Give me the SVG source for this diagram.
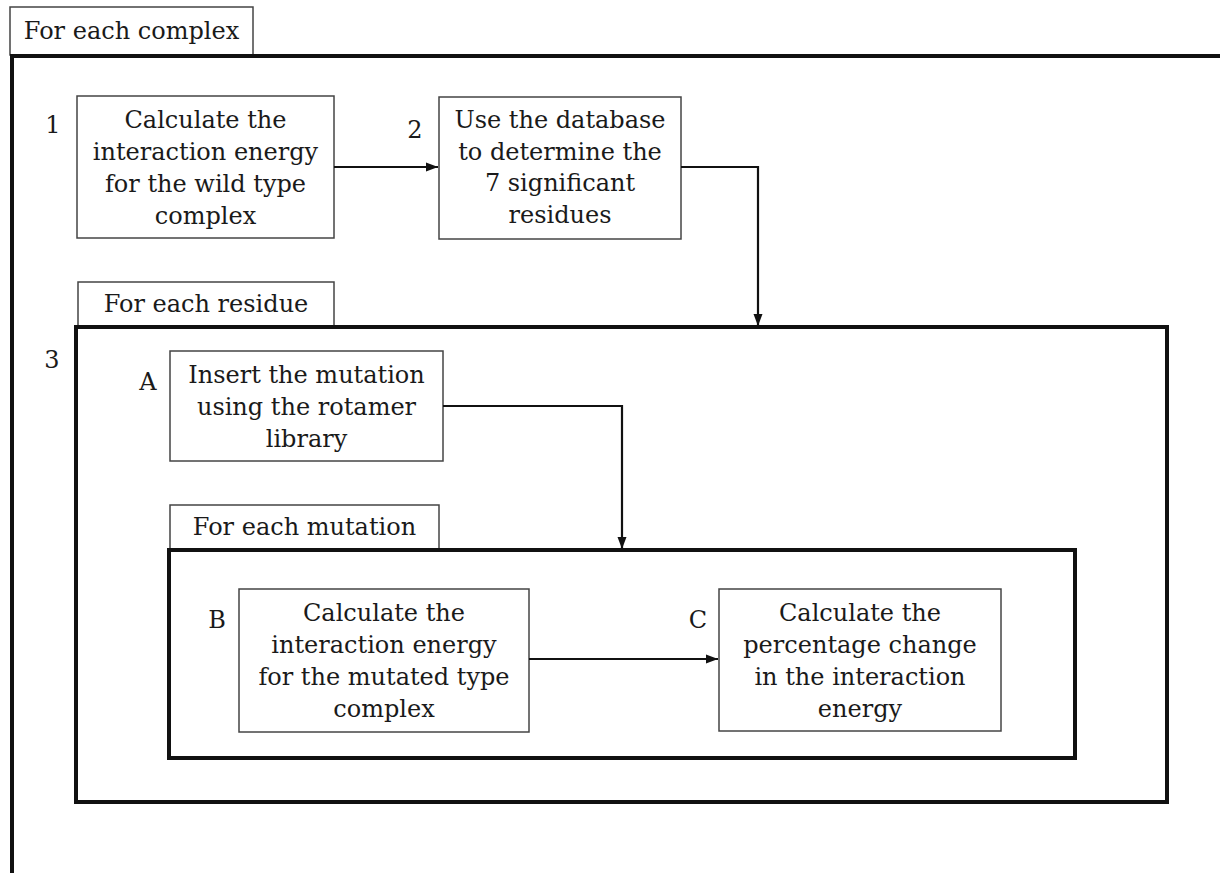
<svg xmlns="http://www.w3.org/2000/svg" width="1220" height="873" viewBox="0 0 1220 873">
<style>
  text { font-family: "DejaVu Serif", "Liberation Serif", serif; font-size: 24px; fill: #1a1a1a; }
  .c { text-anchor: middle; }
  .box { fill: #fff; stroke: #444; stroke-width: 1.5; }
  .tab { fill: #fff; stroke: #444; stroke-width: 1.5; }
  .frame { fill: none; stroke: #111; stroke-width: 4; }
  .conn { fill: none; stroke: #111; stroke-width: 2.2; }
</style>
<defs>
  <marker id="arr" viewBox="0 0 12 10" refX="12" refY="5" markerWidth="12" markerHeight="10" markerUnits="userSpaceOnUse" orient="auto">
    <path d="M0,0.5 L12,5 L0,9.5 Z" fill="#111"/>
  </marker>
</defs>
<rect width="1220" height="873" fill="#fff"/>

<g id="complex-loop">
  <rect class="tab" x="10" y="7" width="243" height="48"/>
  <text class="c" x="131.5" y="39">For each complex</text>
  <path class="frame" d="M1222,56 H12 V875"/>
</g>

<g id="step1">
  <text class="c" x="53" y="133">1</text>
  <rect class="box" x="77" y="96" width="257" height="142"/>
  <text class="c" x="205.5" y="128">Calculate the</text>
  <text class="c" x="205.5" y="160">interaction energy</text>
  <text class="c" x="205.5" y="192">for the wild type</text>
  <text class="c" x="205.5" y="224">complex</text>
</g>

<g id="step2">
  <text class="c" x="415" y="138">2</text>
  <rect class="box" x="439" y="97" width="242" height="142"/>
  <text class="c" x="560" y="128">Use the database</text>
  <text class="c" x="560" y="160">to determine the</text>
  <text class="c" x="560" y="191">7 significant</text>
  <text class="c" x="560" y="223">residues</text>
</g>

<g id="residue-loop">
  <rect class="tab" x="78" y="282" width="256" height="44"/>
  <text class="c" x="206" y="312">For each residue</text>
  <rect class="frame" x="76" y="327" width="1091" height="475"/>
  <text class="c" x="52" y="368">3</text>
</g>

<g id="stepA">
  <text class="c" x="148" y="390">A</text>
  <rect class="box" x="170" y="351" width="273" height="110"/>
  <text class="c" x="306.5" y="383">Insert the mutation</text>
  <text class="c" x="306.5" y="415">using the rotamer</text>
  <text class="c" x="306.5" y="447">library</text>
</g>

<g id="mutation-loop">
  <rect class="tab" x="170" y="505" width="269" height="44"/>
  <text class="c" x="304.5" y="535">For each mutation</text>
  <rect class="frame" x="169" y="550" width="906" height="208"/>
</g>

<g id="stepB">
  <text class="c" x="217" y="628">B</text>
  <rect class="box" x="239" y="589" width="290" height="143"/>
  <text class="c" x="384" y="621">Calculate the</text>
  <text class="c" x="384" y="653">interaction energy</text>
  <text class="c" x="384" y="685">for the mutated type</text>
  <text class="c" x="384" y="717">complex</text>
</g>

<g id="stepC">
  <text class="c" x="698" y="628">C</text>
  <rect class="box" x="719" y="589" width="282" height="142"/>
  <text class="c" x="860" y="621">Calculate the</text>
  <text class="c" x="860" y="653">percentage change</text>
  <text class="c" x="860" y="685">in the interaction</text>
  <text class="c" x="860" y="717">energy</text>
</g>

<g id="connectors">
  <path class="conn" d="M334,167 H438" marker-end="url(#arr)"/>
  <path class="conn" d="M681,167 H758 V326" marker-end="url(#arr)"/>
  <path class="conn" d="M443,406 H622 V549" marker-end="url(#arr)"/>
  <path class="conn" d="M529,659 H718" marker-end="url(#arr)"/>
</g>
</svg>
